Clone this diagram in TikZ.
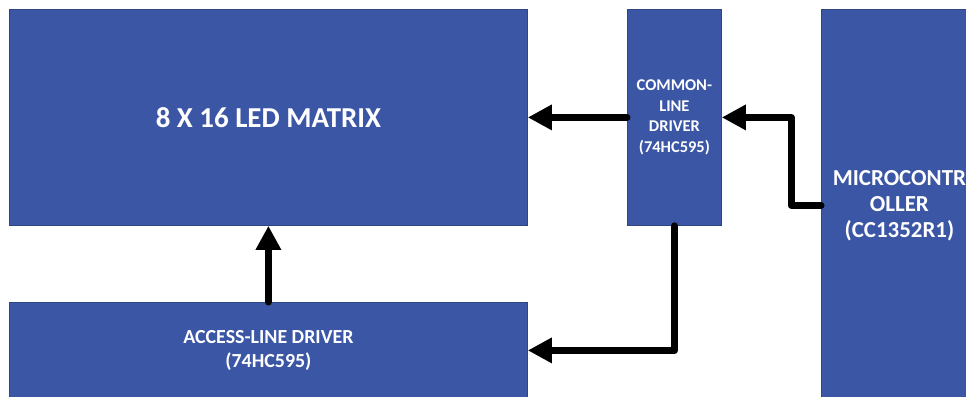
\documentclass[tikz,border=0pt]{standalone}
\usepackage{fontspec}
\setmainfont{Carlito}
\usetikzlibrary{arrows.meta}

\definecolor{blockfill}{HTML}{3B56A5}
\definecolor{blockedge}{HTML}{2F4683}

\tikzset{
  block/.style={draw=blockedge, line width=0.8bp, fill=blockfill, text=white,
    font=\bfseries, align=center, inner sep=0pt, anchor=north west},
  link/.style={line width=7bp, line cap=round, line join=round,
    -{Triangle[length=24bp,width=24bp]}},
}

\begin{document}
\begin{tikzpicture}[x=1bp,y=-1bp]
  \useasboundingbox (0,0) rectangle (966,396);
  \clip (0,0) rectangle (966,396);
  \fill[white] (0,0) rectangle (966,396);

  % blocks
  \node[block, minimum width=518bp, minimum height=216bp,
        font=\bfseries\fontsize{29}{34}\selectfont] (led) at (9,9) {8 X 16 LED MATRIX};
  \node[block, minimum width=518bp, minimum height=96bp,
        font=\bfseries\fontsize{20}{24}\selectfont] (access) at (9,302)
        {ACCESS-LINE DRIVER\\(74HC595)};
  \node[block, minimum width=94bp, minimum height=216bp,
        font=\bfseries\fontsize{16.5}{20.5}\selectfont] (common) at (627,9)
        {COMMON-\\LINE\\DRIVER\\(74HC595)};
  \node[block, minimum width=156bp, minimum height=392bp,
        font=\bfseries\fontsize{23}{26}\selectfont] (micro) at (821,9)
        {MICROCONTR\\OLLER\\(CC1352R1)};

  % signal paths
  \draw[link] (common.west) -- (led.east);
  \draw[link] (access.north) -- (led.south);
  \draw[link] (micro.west) -- ++(-30,0) |- (common.east);
  \draw[link] (common.south) |- (access.east);
\end{tikzpicture}
\end{document}
